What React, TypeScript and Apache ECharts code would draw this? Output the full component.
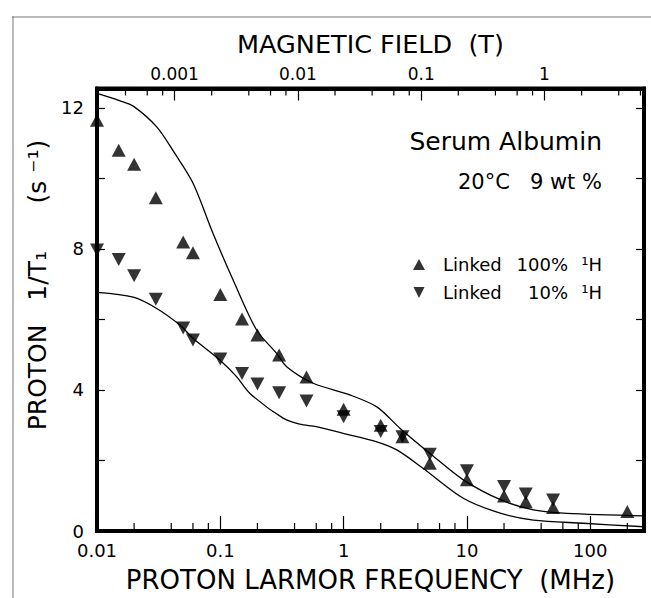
import React, { useEffect, useRef } from "react";
import * as echarts from "echarts";

const FONT = "'DejaVu Sans', 'Noto Sans', sans-serif";

// Axis ranges
const F_MIN = 0.01; // MHz
const F_MAX = 273; // MHz
const MHZ_PER_TESLA = 42.58;
const Y_MIN = 0;
const Y_MAX = 12.55;

// Measured points: Linked 100% 1H (up triangles)
const freq100 = [0.01, 0.015, 0.02, 0.03, 0.05, 0.06, 0.1, 0.15, 0.2, 0.3, 0.5, 1, 2, 3, 5, 10, 20, 30, 50, 200];
const rate100 = [11.65, 10.8, 10.4, 9.45, 8.2, 7.89, 6.71, 6.01, 5.56, 4.99, 4.37, 3.45, 3.0, 2.67, 1.92, 1.45, 0.99, 0.83, 0.67, 0.55];

// Measured points: Linked 10% 1H (down triangles)
const freq10 = [0.01, 0.015, 0.02, 0.03, 0.05, 0.06, 0.1, 0.15, 0.2, 0.3, 0.5, 1, 2, 3, 5, 10, 20, 30, 50];
const rate10 = [7.97, 7.7, 7.24, 6.57, 5.76, 5.42, 4.88, 4.47, 4.17, 3.92, 3.69, 3.24, 2.82, 2.67, 2.18, 1.71, 1.26, 1.05, 0.88];

// Upper theoretical curve
const upperCurveFreq = [0.01, 0.0154, 0.0197, 0.0305, 0.042, 0.06, 0.087, 0.127, 0.197, 0.286, 0.345, 0.567, 1.12, 1.86, 2.87, 5.02, 9.35, 18.9, 34.6, 64.5, 273];
const upperCurveRate = [12.41, 12.2, 12.05, 11.46, 10.75, 9.87, 8.45, 7.12, 5.7, 5.04, 4.66, 4.19, 3.86, 3.52, 2.91, 2.2, 1.45, 0.88, 0.6, 0.5, 0.43];

// Lower theoretical curve
const lowerCurveFreq = [0.01, 0.0197, 0.0305, 0.047, 0.0604, 0.099, 0.136, 0.174, 0.323, 0.44, 0.6, 0.99, 1.86, 2.7, 4.4, 9.35, 18.9, 34.6, 88, 273];
const lowerCurveRate = [6.77, 6.63, 6.31, 5.84, 5.46, 4.85, 4.37, 3.9, 3.2, 3.03, 2.96, 2.77, 2.53, 2.3, 1.78, 0.93, 0.5, 0.31, 0.22, 0.12];

// Minor tick positions
const freqMinorTicks = [0.02, 0.04, 0.06, 0.08, 0.2, 0.4, 0.6, 0.8, 2, 4, 6, 8, 20, 40, 60, 80, 200];
const fieldMinorTicks = [0.0004, 0.0006, 0.0008, 0.002, 0.004, 0.006, 0.008, 0.02, 0.04, 0.06, 0.08, 0.2, 0.4, 0.6, 0.8, 2, 4, 6];

const NAME_100 = "Linked 100% ¹H";
const NAME_10 = "Linked 10% ¹H";
const DOWN_TRIANGLE = "path://M0,0L10,0L5,10Z";

const fmt = (v: number) => String(Number(v.toPrecision(3)));
const yFmt = (v: number) => (Math.abs(v % 4) < 1e-6 ? String(v) : "");

function tickSeries(values: number[], xAxisIndex: number, yEdge: number, dir: number, len: number) {
  return {
    type: "custom",
    xAxisIndex,
    yAxisIndex: 0,
    silent: true,
    clip: false,
    z: 5,
    data: values.map((v) => [v, yEdge]),
    renderItem: (_params: any, api: any) => {
      const p = api.coord([api.value(0), api.value(1)]);
      return {
        type: "line",
        shape: { x1: p[0], y1: p[1], x2: p[0], y2: p[1] + dir * len },
        style: { stroke: "#000", lineWidth: 1.2 },
      };
    },
  };
}

export default function App() {
  const ref = useRef<HTMLDivElement>(null);
  useEffect(() => {
    if (!ref.current) return;
    document.documentElement.style.overflow = "hidden";
    document.body.style.margin = "0";
    const chart = echarts.init(ref.current, undefined, { renderer: "svg" });
    const axisTickStyle = { color: "#000", width: 1.2 };
    const frameLine = { show: true, onZero: false, lineStyle: { color: "#000", width: 4 } };
    const option: any = {
      animation: false,
      textStyle: { fontFamily: FONT, color: "#000" },
      grid: {
        left: 97,
        right: 7,
        top: 88.5,
        bottom: 67,
        show: true,
        borderColor: "#000",
        borderWidth: 4,
        backgroundColor: "transparent",
      },
      xAxis: [
        {
          type: "log",
          logBase: 10,
          min: F_MIN,
          max: F_MAX,
          position: "bottom",
          name: "PROTON LARMOR FREQUENCY  (MHz)",
          nameLocation: "middle",
          nameGap: 36,
          nameTextStyle: { fontSize: 26, color: "#000", fontFamily: FONT },
          axisLine: frameLine,
          axisTick: { show: true, inside: true, length: 15, lineStyle: axisTickStyle },
          axisLabel: { fontSize: 18, color: "#000", fontFamily: FONT, margin: 12, lineHeight: 14, formatter: fmt, showMaxLabel: false },
          splitLine: { show: false },
          minorTick: { show: false },
        },
        {
          type: "log",
          logBase: 10,
          min: F_MIN / MHZ_PER_TESLA,
          max: F_MAX / MHZ_PER_TESLA,
          position: "top",
          name: "MAGNETIC FIELD  (T)",
          nameLocation: "middle",
          nameGap: 32,
          nameTextStyle: { fontSize: 25.5, color: "#000", fontFamily: FONT },
          axisLine: frameLine,
          axisTick: { show: true, inside: true, length: 12, lineStyle: axisTickStyle },
          axisLabel: { fontSize: 17, color: "#000", fontFamily: FONT, margin: 6, formatter: fmt, showMinLabel: false, showMaxLabel: false },
          splitLine: { show: false },
          minorTick: { show: false },
        },
      ],
      yAxis: [
        {
          type: "value",
          min: Y_MIN,
          max: Y_MAX,
          interval: 2,
          position: "left",
          axisLine: frameLine,
          axisTick: { show: true, inside: true, length: 8, lineStyle: axisTickStyle },
          axisLabel: { fontSize: 18, color: "#000", fontFamily: FONT, margin: 13, lineHeight: 12, formatter: yFmt, showMaxLabel: false },
          splitLine: { show: false },
        },
        {
          type: "value",
          min: Y_MIN,
          max: Y_MAX,
          interval: 2,
          position: "right",
          axisLine: frameLine,
          axisTick: { show: true, inside: true, length: 8, lineStyle: axisTickStyle },
          axisLabel: { show: false },
          splitLine: { show: false },
        },
      ],
      legend: {
        orient: "vertical",
        left: 413,
        top: 253.5,
        padding: 0,
        itemWidth: 12,
        itemHeight: 11,
        itemGap: 6,
        selectedMode: false,
        data: [
          { name: NAME_100, icon: "triangle" },
          { name: NAME_10, icon: DOWN_TRIANGLE },
        ],
        formatter: (name: string) => {
          const [a, b, c] = name.split(" ");
          return `{a|${a}}{b|${b}}{c|${c}}`;
        },
        textStyle: {
          fontFamily: FONT,
          fontSize: 18,
          color: "#000",
          lineHeight: 22,
          rich: {
            a: { fontFamily: FONT, fontSize: 18, lineHeight: 22, width: 62, padding: [0, 0, 0, 13] },
            b: { fontFamily: FONT, fontSize: 18, lineHeight: 22, width: 63, align: "right" },
            c: { fontFamily: FONT, fontSize: 18, lineHeight: 22, width: 34, align: "right" },
          },
        },
      },
      graphic: [
        { type: "rect", silent: true, shape: { x: 12, y: 16.5, width: 639, height: 1 }, style: { fill: "#777" } },
        { type: "rect", silent: true, shape: { x: 12.5, y: 16.5, width: 1, height: 582 }, style: { fill: "#777" } },
        {
          type: "text",
          x: 602,
          y: 141,
          style: { text: "Serum Albumin", fontFamily: FONT, fontSize: 25, fill: "#000", align: "right", verticalAlign: "middle" },
        },
        {
          type: "text",
          x: 602,
          y: 182,
          style: { text: "20°C   9 wt %", fontFamily: FONT, fontSize: 21, fill: "#000", align: "right", verticalAlign: "middle" },
        },
        {
          type: "text",
          x: 37,
          y: 285,
          rotation: Math.PI / 2,
          style: { text: "PROTON   1/T₁      (s ⁻¹)", fontFamily: FONT, fontSize: 25, fill: "#000", align: "center", verticalAlign: "middle" },
        },
      ],
      series: [
        {
          name: "upper curve",
          type: "line",
          xAxisIndex: 0,
          yAxisIndex: 0,
          data: upperCurveFreq.map((f, i) => [f, upperCurveRate[i]]),
          showSymbol: false,
          symbol: "none",
          smooth: 0.3,
          lineStyle: { color: "#000", width: 1.3 },
          z: 2,
        },
        {
          name: "lower curve",
          type: "line",
          xAxisIndex: 0,
          yAxisIndex: 0,
          data: lowerCurveFreq.map((f, i) => [f, lowerCurveRate[i]]),
          showSymbol: false,
          symbol: "none",
          smooth: 0.3,
          lineStyle: { color: "#000", width: 1.3 },
          z: 2,
        },
        {
          name: NAME_100,
          type: "scatter",
          xAxisIndex: 0,
          yAxisIndex: 0,
          symbol: "triangle",
          symbolSize: [14, 13],
          itemStyle: { color: "#000" },
          clip: false,
          z: 4,
          data: freq100.map((f, i) => [f, rate100[i]]),
        },
        {
          name: NAME_10,
          type: "scatter",
          xAxisIndex: 0,
          yAxisIndex: 0,
          symbol: DOWN_TRIANGLE,
          symbolSize: [14, 13],
          itemStyle: { color: "#000" },
          clip: false,
          z: 4,
          data: freq10.map((f, i) => [f, rate10[i]]),
        },
        tickSeries(freqMinorTicks, 0, Y_MIN, -1, 8),
        tickSeries(fieldMinorTicks, 1, Y_MAX, 1, 7),
      ],
    };
    chart.setOption(option);
    return () => chart.dispose();
  }, []);
  return (
    <div
      ref={ref}
      style={{ position: "fixed", left: 0, top: 0, width: 651, height: 598, overflow: "hidden", background: "#fff" }}
    />
  );
}
